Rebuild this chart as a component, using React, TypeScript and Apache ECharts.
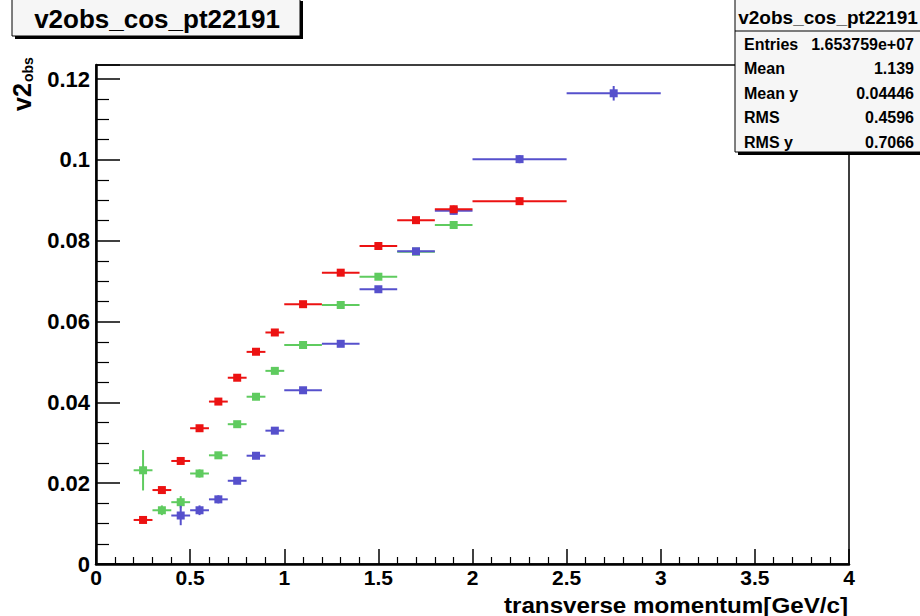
import React, { useEffect, useRef } from "react";
import * as echarts from "echarts";

// pT bin centres and half-widths (GeV/c)
const ptCenter = [0.25, 0.35, 0.45, 0.55, 0.65, 0.75, 0.85, 0.95, 1.1, 1.3, 1.5, 1.7, 1.9, 2.25, 2.75];
const ptHalfWidth = [0.05, 0.05, 0.05, 0.05, 0.05, 0.05, 0.05, 0.05, 0.1, 0.1, 0.1, 0.1, 0.1, 0.25, 0.25];

// v2obs values
const v2Red = [0.0109, 0.0183, 0.0255, 0.0336, 0.0402, 0.0461, 0.0525, 0.0573, 0.0643, 0.0721, 0.0787, 0.0851, 0.0878, 0.0898, null];
const errRed = [0.0008, 0.0007, 0.0007, 0.0007, 0.0007, 0.0007, 0.0007, 0.0007, 0.0007, 0.0007, 0.0008, 0.0008, 0.0009, 0.0009, null];

const v2Green = [0.0232, 0.0133, 0.0153, 0.0224, 0.0269, 0.0346, 0.0414, 0.0478, 0.0542, 0.0641, 0.0711, 0.0773, 0.0839, null, null];
const errGreen = [0.005, 0.0012, 0.0015, 0.001, 0.0008, 0.0008, 0.0007, 0.0007, 0.0007, 0.0007, 0.0008, 0.0008, 0.0009, null, null];

const v2Blue = [null, null, 0.012, 0.0133, 0.016, 0.0206, 0.0268, 0.033, 0.043, 0.0545, 0.068, 0.0774, 0.0874, 0.1002, 0.1165];
const errBlue = [null, null, 0.0024, 0.0012, 0.001, 0.0008, 0.0007, 0.0007, 0.0007, 0.0007, 0.0008, 0.0008, 0.0009, 0.001, 0.0018];

const histName = "v2obs_cos_pt22191";
const statLabels = ["Entries", "Mean", "Mean y", "RMS", "RMS y"];
const statValues = ["1.653759e+07", "1.139", "0.04446", "0.4596", "0.7066"];

const xTitle = "transverse momentum[GeV/c]";

const FONT = "'Liberation Sans', Arial, Helvetica, sans-serif";

function buildData(vals: (number | null)[], errs: (number | null)[]) {
  const out: number[][] = [];
  ptCenter.forEach((x, i) => {
    const v = vals[i];
    if (v == null) return;
    out.push([x, v, ptHalfWidth[i], errs[i] ?? 0]);
  });
  return out;
}

function errSeries(name: string, color: string, data: number[][]) {
  return {
    type: "custom",
    name,
    data,
    encode: { x: 0, y: 1 },
    z: 5,
    renderItem: (params: any, api: any) => {
      const x = api.value(0);
      const y = api.value(1);
      const hw = api.value(2);
      const e = api.value(3);
      const c = api.coord([x, y]);
      const l = api.coord([x - hw, y]);
      const r = api.coord([x + hw, y]);
      const t = api.coord([x, y + e]);
      const b = api.coord([x, y - e]);
      const s = 8;
      return {
        type: "group",
        children: [
          { type: "line", shape: { x1: l[0], y1: c[1], x2: r[0], y2: c[1] }, style: { stroke: color, lineWidth: 2 } },
          { type: "line", shape: { x1: c[0], y1: t[1], x2: c[0], y2: b[1] }, style: { stroke: color, lineWidth: 2 } },
          { type: "rect", shape: { x: c[0] - s / 2, y: c[1] - s / 2, width: s, height: s }, style: { fill: color } },
        ],
      };
    },
  };
}

export default function App() {
  const ref = useRef<HTMLDivElement>(null);
  useEffect(() => {
    if (!ref.current) return;
    const chart = echarts.init(ref.current, undefined, { renderer: "svg" });

    const statsGraphics: any[] = [];
    const sx = 735, sy = -2, sw = 190, sh = 154;
    statsGraphics.push({ type: "rect", z: 100, shape: { x: sx + 3, y: sy + 3, width: sw, height: sh }, style: { fill: "#000" } });
    statsGraphics.push({ type: "rect", z: 101, shape: { x: sx, y: sy, width: sw, height: sh }, style: { fill: "#f6f6f6", stroke: "#000", lineWidth: 1 } });
    statsGraphics.push({ type: "line", z: 102, shape: { x1: sx, y1: 31, x2: sx + sw, y2: 31 }, style: { stroke: "#000", lineWidth: 1 } });
    statsGraphics.push({
      type: "text", z: 103, x: 828, y: 17,
      style: { text: histName, fill: "#000", font: `bold 19px ${FONT}`, textAlign: "center", textVerticalAlign: "middle" },
    });
    statLabels.forEach((lab, i) => {
      const yy = 44 + i * 24.5;
      statsGraphics.push({
        type: "text", z: 103, x: 744, y: yy,
        style: { text: lab, fill: "#000", font: `bold 16px ${FONT}`, textAlign: "left", textVerticalAlign: "middle" },
      });
      statsGraphics.push({
        type: "text", z: 103, x: 914, y: yy,
        style: { text: statValues[i], fill: "#000", font: `bold 16px ${FONT}`, textAlign: "right", textVerticalAlign: "middle" },
      });
    });

    const option: any = {
      animation: false,
      backgroundColor: "#ffffff",
      grid: {
        left: 96, right: 71, top: 65, bottom: 52,
        show: true, borderColor: "#000", borderWidth: 1.5, backgroundColor: "#ffffff",
      },
      xAxis: {
        type: "value", min: 0, max: 4, interval: 0.5,
        axisLine: { show: true, onZero: false, lineStyle: { color: "#000", width: 2.5 } },
        axisTick: { show: true, inside: true, length: 15, lineStyle: { color: "#000", width: 1.5 } },
        minorTick: { show: true, splitNumber: 5, length: 7, lineStyle: { color: "#000", width: 1.2 } },
        splitLine: { show: false },
        axisLabel: { color: "#000", fontFamily: FONT, fontWeight: "bold", fontSize: 21, margin: 3 },
      },
      yAxis: {
        type: "value", min: 0, max: 0.1235, interval: 0.02,
        axisLine: { show: true, onZero: false, lineStyle: { color: "#000", width: 2.5 } },
        axisTick: { show: true, inside: true, length: 24, lineStyle: { color: "#000", width: 1.5 } },
        minorTick: { show: true, splitNumber: 4, length: 13, lineStyle: { color: "#000", width: 1.2 } },
        splitLine: { show: false },
        axisLabel: { color: "#000", fontFamily: FONT, fontWeight: "bold", fontSize: 22, margin: 6, showMaxLabel: false },
      },
      series: [
        errSeries("green", "#5fcb5f", buildData(v2Green, errGreen)),
        errSeries("blue", "#5650cc", buildData(v2Blue, errBlue)),
        errSeries("red", "#ec1212", buildData(v2Red, errRed)),
      ],
      graphic: [
        // title box
        { type: "rect", z: 100, shape: { x: 15, y: 1, width: 288, height: 38 }, style: { fill: "#000" } },
        { type: "rect", z: 101, shape: { x: 12, y: -2, width: 288, height: 38 }, style: { fill: "#f6f6f6", stroke: "#000", lineWidth: 1 } },
        {
          type: "text", z: 102, x: 157, y: 19,
          style: { text: histName, fill: "#000", font: `bold 26px ${FONT}`, textAlign: "center", textVerticalAlign: "middle" },
        },
        ...statsGraphics,
        // y axis title v2_obs
        {
          type: "text", z: 102, x: 22, y: 111, rotation: Math.PI / 2,
          style: { text: "v2", fill: "#000", font: `bold 25px ${FONT}`, textAlign: "left", textVerticalAlign: "middle" },
        },
        {
          type: "text", z: 102, x: 28, y: 82, rotation: Math.PI / 2,
          style: { text: "obs", fill: "#000", font: `bold 14px ${FONT}`, textAlign: "left", textVerticalAlign: "middle" },
        },
        // x axis title
        {
          type: "text", z: 102, x: 848, y: 605, scaleX: 1.1,
          style: { text: xTitle, fill: "#000", font: `bold 22px ${FONT}`, textAlign: "right", textVerticalAlign: "middle" },
        },
      ],
    };
    chart.setOption(option);
    return () => chart.dispose();
  }, []);
  return <div ref={ref} style={{ position: "absolute", left: 0, top: 0, width: 920, height: 616 }} />;
}
